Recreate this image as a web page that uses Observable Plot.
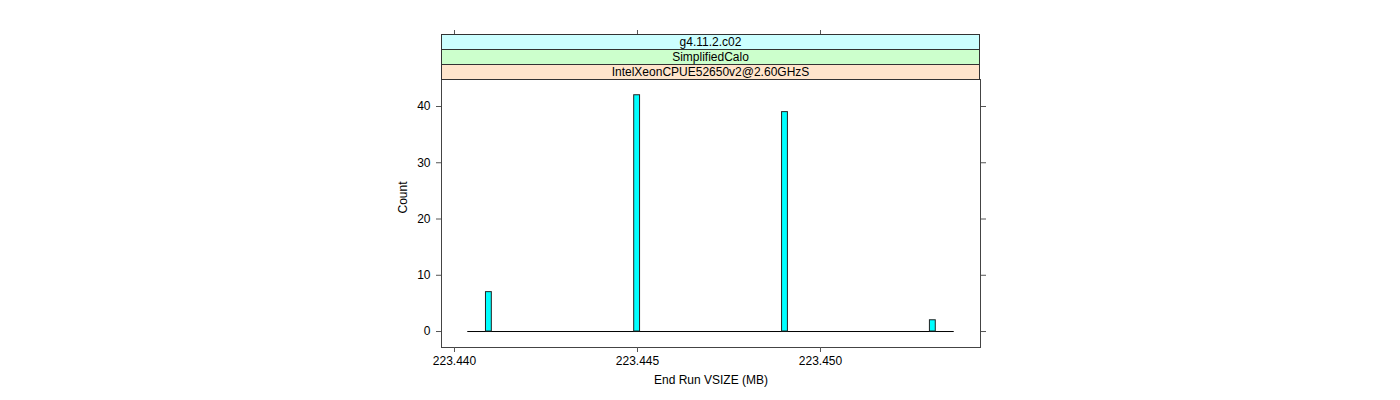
<!DOCTYPE html>
<html>
<head>
<meta charset="utf-8">
<script src="https://cdn.jsdelivr.net/npm/d3@7"></script>
<script src="https://cdn.jsdelivr.net/npm/@observablehq/plot@0.6"></script>
<style>
  html, body { margin: 0; padding: 0; background: #fff; }
  #chart { width: 1400px; height: 400px; }
  svg { font-family: "Liberation Sans", Arial, Helvetica, sans-serif; }
</style>
</head>
<body>
<div id="chart"></div>
<script>
// ---- data ----
const binStart = [223.44086, 223.44491, 223.44895, 223.45299];
const binEnd   = [223.44102, 223.44507, 223.44911, 223.45315];
const counts   = [7, 42, 39, 2];
const histRange = [223.44036, 223.45363];   // extent of the (mostly empty) bins
const xTicks = [223.440, 223.445, 223.450];
const yTicks = [0, 10, 20, 30, 40];
const strips = ["g4.11.2.c02", "SimplifiedCalo", "IntelXeonCPUE52650v2@2.60GHzS"];
const stripColors = ["#CCFFFF", "#CCFFCC", "#FFE5CC"];
const xLabel = "End Run VSIZE (MB)";
const yLabel = "Count";

const bars = counts.map((c, i) => ({x1: binStart[i], x2: binEnd[i], y: c}));
const baseline = histRange.map(x => ({x, y: 0}));

// ---- layout ----
const W = 1400, H = 400;
const mL = 441, mR = 420, mT = 79, mB = 53;
const stripH = 15;

const plot = Plot.plot({
  width: W, height: H,
  marginLeft: mL, marginRight: mR, marginTop: mT, marginBottom: mB,
  style: {fontFamily: "Liberation Sans, Arial, sans-serif", fontSize: "12px", background: "white"},
  x: {domain: [223.439645, 223.454372]},
  y: {domain: [-2.84, 44.8]},
  marks: [
    Plot.line(baseline, {x: "x", y: "y", stroke: "black", strokeWidth: 1}),
    Plot.rectY(bars, {x1: "x1", x2: "x2", y: "y", fill: "#00FFFF", stroke: "#222", strokeWidth: 1}),
    Plot.frame({stroke: "#444"}),
    Plot.axisX({anchor: "bottom", ticks: xTicks, tickFormat: d3.format(".3f"), tickSize: 5, tickPadding: 4, label: null, stroke: "#555", color: "black"}),
    Plot.axisX({anchor: "top", ticks: xTicks, tickFormat: () => "", tickSize: 5, label: null, dy: -3 * stripH, stroke: "#555"}),
    Plot.axisY({anchor: "left", ticks: yTicks, tickSize: 5, tickPadding: 6, label: null, stroke: "#555", color: "black"}),
    Plot.axisY({anchor: "right", ticks: yTicks, tickFormat: () => "", tickSize: 5, label: null, stroke: "#555"}),
    Plot.text([yLabel], {frameAnchor: "left", dx: -38, rotate: -90, fontSize: 12, fill: "black"}),
    Plot.text([xLabel], {frameAnchor: "bottom", dy: 36, fontSize: 12, fill: "black"})
  ]
});

document.getElementById("chart").appendChild(plot);

// ---- strips (lattice-style panel headers) ----
const svg = d3.select(plot);
const g = svg.append("g");
const pw = W - mL - mR;
strips.forEach((s, i) => {
  const y0 = mT - (strips.length - i) * stripH;
  g.append("rect")
    .attr("x", mL + 0.5).attr("y", y0 + 0.5)
    .attr("width", pw - 1).attr("height", stripH)
    .attr("fill", stripColors[i]).attr("stroke", "#333");
  g.append("text")
    .attr("x", mL + pw / 2).attr("y", y0 + stripH / 2 + 0.5)
    .attr("text-anchor", "middle").attr("dominant-baseline", "central")
    .attr("font-size", 12).attr("fill", "black")
    .text(s);
});
</script>
</body>
</html>
